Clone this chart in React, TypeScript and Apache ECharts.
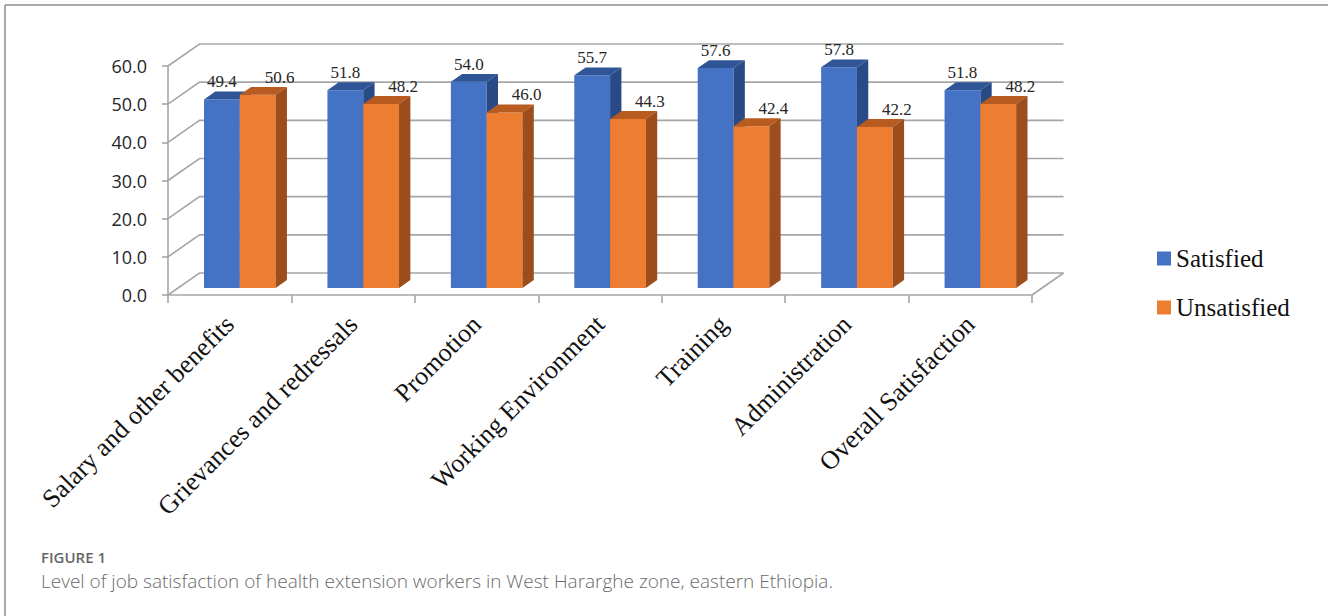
import React, { useEffect, useRef } from "react";
import * as echarts from "echarts";

const categories = [
  "Salary and other benefits",
  "Grievances and redressals",
  "Promotion",
  "Working Environment",
  "Training",
  "Administration",
  "Overall Satisfaction",
];
const satisfied = [49.4, 51.8, 54.0, 55.7, 57.6, 57.8, 51.8];
const unsatisfied = [50.6, 48.2, 46.0, 44.3, 42.4, 42.2, 48.2];
const yTicks = [0, 10, 20, 30, 40, 50, 60];
const seriesNames = ["Satisfied", "Unsatisfied"];
const captionTitle = "FIGURE 1";
const captionText =
  "Level of job satisfaction of health extension workers in West Hararghe zone, eastern Ethiopia.";

// 3D oblique projection (full floor depth)
const DX = 31.5;
const DY = -22;
const BAR_FRONT = 0.32; // depth fraction of the bar front face
const BAR_DEPTH = 0.36; // depth fraction of the bar
const BAR_FRAC = 0.29; // bar width as a fraction of the category band
const GRID_COLOR = "#a6a6a6";
const SERIF = "Liberation Serif";

const palettes = [
  { front: "#4472C4", top: "#2F5597", side: "#2A4A86", labelShift: 0 },
  { front: "#ED7D31", top: "#B85B20", side: "#9C4D1B", labelShift: 22 },
];

function makeBarRender(seriesIdx: number) {
  return (params: any, api: any) => {
    const idx = api.value(0);
    const val = api.value(1);
    const top = api.coord([idx, val]);
    const base = api.coord([idx, 0]);
    const band = api.size([1, 0])[0];
    const w = band * BAR_FRAC;
    const ox = DX * BAR_FRONT;
    const oy = DY * BAR_FRONT;
    const dx = DX * BAR_DEPTH;
    const dy = DY * BAR_DEPTH;
    const x0 = seriesIdx === 0 ? top[0] - w + ox : top[0] + ox;
    const yt = top[1] + oy;
    const yb = base[1] + oy;
    const p = palettes[seriesIdx];
    return {
      type: "group",
      children: [
        {
          type: "rect",
          shape: { x: x0, y: yt, width: w, height: yb - yt },
          style: { fill: p.front },
        },
        {
          type: "polygon",
          shape: {
            points: [
              [x0, yt],
              [x0 + w, yt],
              [x0 + w + dx, yt + dy],
              [x0 + dx, yt + dy],
            ],
          },
          style: { fill: p.top },
        },
        {
          type: "polygon",
          shape: {
            points: [
              [x0 + w, yt],
              [x0 + w + dx, yt + dy],
              [x0 + w + dx, yb + dy],
              [x0 + w, yb],
            ],
          },
          style: { fill: p.side },
        },
        {
          type: "text",
          x: x0 + w / 2 + p.labelShift,
          y: yt + dy - 1,
          style: {
            text: Number(val).toFixed(1),
            fill: "#262626",
            fontFamily: SERIF,
            fontSize: 17,
            fontWeight: "normal",
            align: "center",
            verticalAlign: "bottom",
          },
        },
      ],
    };
  };
}

function wallRender(params: any, api: any) {
  const v = api.value(1);
  const pt = api.coord([0, v]);
  const cs = params.coordSys;
  const left = cs.x;
  const right = cs.x + cs.width;
  const y = pt[1];
  const lineStyle = { stroke: GRID_COLOR, lineWidth: 1.6, fill: "none" };
  const children: any[] = [
    {
      type: "polyline",
      shape: {
        points: [
          [left, y],
          [left + DX, y + DY],
          [right + DX, y + DY],
        ],
      },
      style: lineStyle,
    },
  ];
  if (v === 0) {
    children.push({
      type: "line",
      shape: { x1: right, y1: y, x2: right + DX, y2: y + DY },
      style: lineStyle,
    });
  }
  return { type: "group", children };
}

export default function App() {
  const ref = useRef<HTMLDivElement>(null);
  useEffect(() => {
    if (!ref.current) return;
    const chart = echarts.init(ref.current, null, { renderer: "svg" });
    chart.setOption({
      animation: false,
      backgroundColor: "#ffffff",
      textStyle: { fontFamily: SERIF },
      grid: { left: 168, top: 66, width: 864, height: 229 },
      legend: {
        orient: "vertical",
        left: 1152,
        top: 241,
        itemWidth: 14,
        itemHeight: 14,
        itemGap: 24,
        icon: "rect",
        data: seriesNames,
        textStyle: {
          fontFamily: SERIF,
          fontSize: 25,
          lineHeight: 25,
          color: "#111",
        },
      },
      xAxis: {
        type: "category",
        data: categories,
        axisLine: { show: true, lineStyle: { color: GRID_COLOR, width: 1.6 } },
        axisTick: { show: true, length: 8, lineStyle: { color: GRID_COLOR, width: 1.6 } },
        axisLabel: {
          interval: 0,
          rotate: 45,
          margin: 25,
          fontFamily: SERIF,
          fontSize: 26,
          color: "#111",
        },
        splitLine: { show: false },
      },
      yAxis: {
        type: "value",
        min: 0,
        max: 60,
        interval: 10,
        axisLine: { show: true, lineStyle: { color: GRID_COLOR, width: 1.6 } },
        axisTick: { show: true, length: 6, lineStyle: { color: GRID_COLOR, width: 1.6 } },
        axisLabel: {
          margin: 21,
          fontFamily: "Open Sans",
          fontSize: 18,
          color: "#262626",
          formatter: (v: number) => v.toFixed(1),
        },
        splitLine: { show: false },
      },
      series: [
        {
          type: "custom",
          name: "walls",
          coordinateSystem: "cartesian2d",
          data: yTicks.map((v) => [0, v]),
          encode: { x: 0, y: 1 },
          renderItem: wallRender,
          silent: true,
          z: 1,
        },
        {
          type: "custom",
          name: seriesNames[0],
          coordinateSystem: "cartesian2d",
          data: satisfied.map((v, i) => [i, v]),
          encode: { x: 0, y: 1 },
          itemStyle: { color: palettes[0].front },
          renderItem: makeBarRender(0),
          z: 2,
        },
        {
          type: "custom",
          name: seriesNames[1],
          coordinateSystem: "cartesian2d",
          data: unsatisfied.map((v, i) => [i, v]),
          encode: { x: 0, y: 1 },
          itemStyle: { color: palettes[1].front },
          renderItem: makeBarRender(1),
          z: 3,
        },
      ],
      graphic: [
        {
          type: "line",
          shape: { x1: 5, y1: 5, x2: 1328, y2: 5 },
          style: { stroke: "#8c8c8c", lineWidth: 1.5 },
        },
        {
          type: "line",
          shape: { x1: 5, y1: 5, x2: 5, y2: 616 },
          style: { stroke: "#8c8c8c", lineWidth: 1.5 },
        },
        {
          type: "text",
          x: 41,
          y: 557,
          style: {
            text: captionTitle,
            fill: "#666666",
            fontFamily: "Open Sans",
            fontWeight: 600,
            fontSize: 15,
            verticalAlign: "middle",
          },
        },
        {
          type: "text",
          x: 41,
          y: 581,
          style: {
            text: captionText,
            fill: "#6b6b6b",
            fontFamily: "Open Sans",
            fontWeight: 300,
            fontSize: 19,
            verticalAlign: "middle",
          },
        },
      ],
    });
    return () => chart.dispose();
  }, []);
  return (
    <div
      ref={ref}
      style={{ position: "fixed", left: 0, top: 0, width: 1328, height: 616, background: "#fff" }}
    />
  );
}
